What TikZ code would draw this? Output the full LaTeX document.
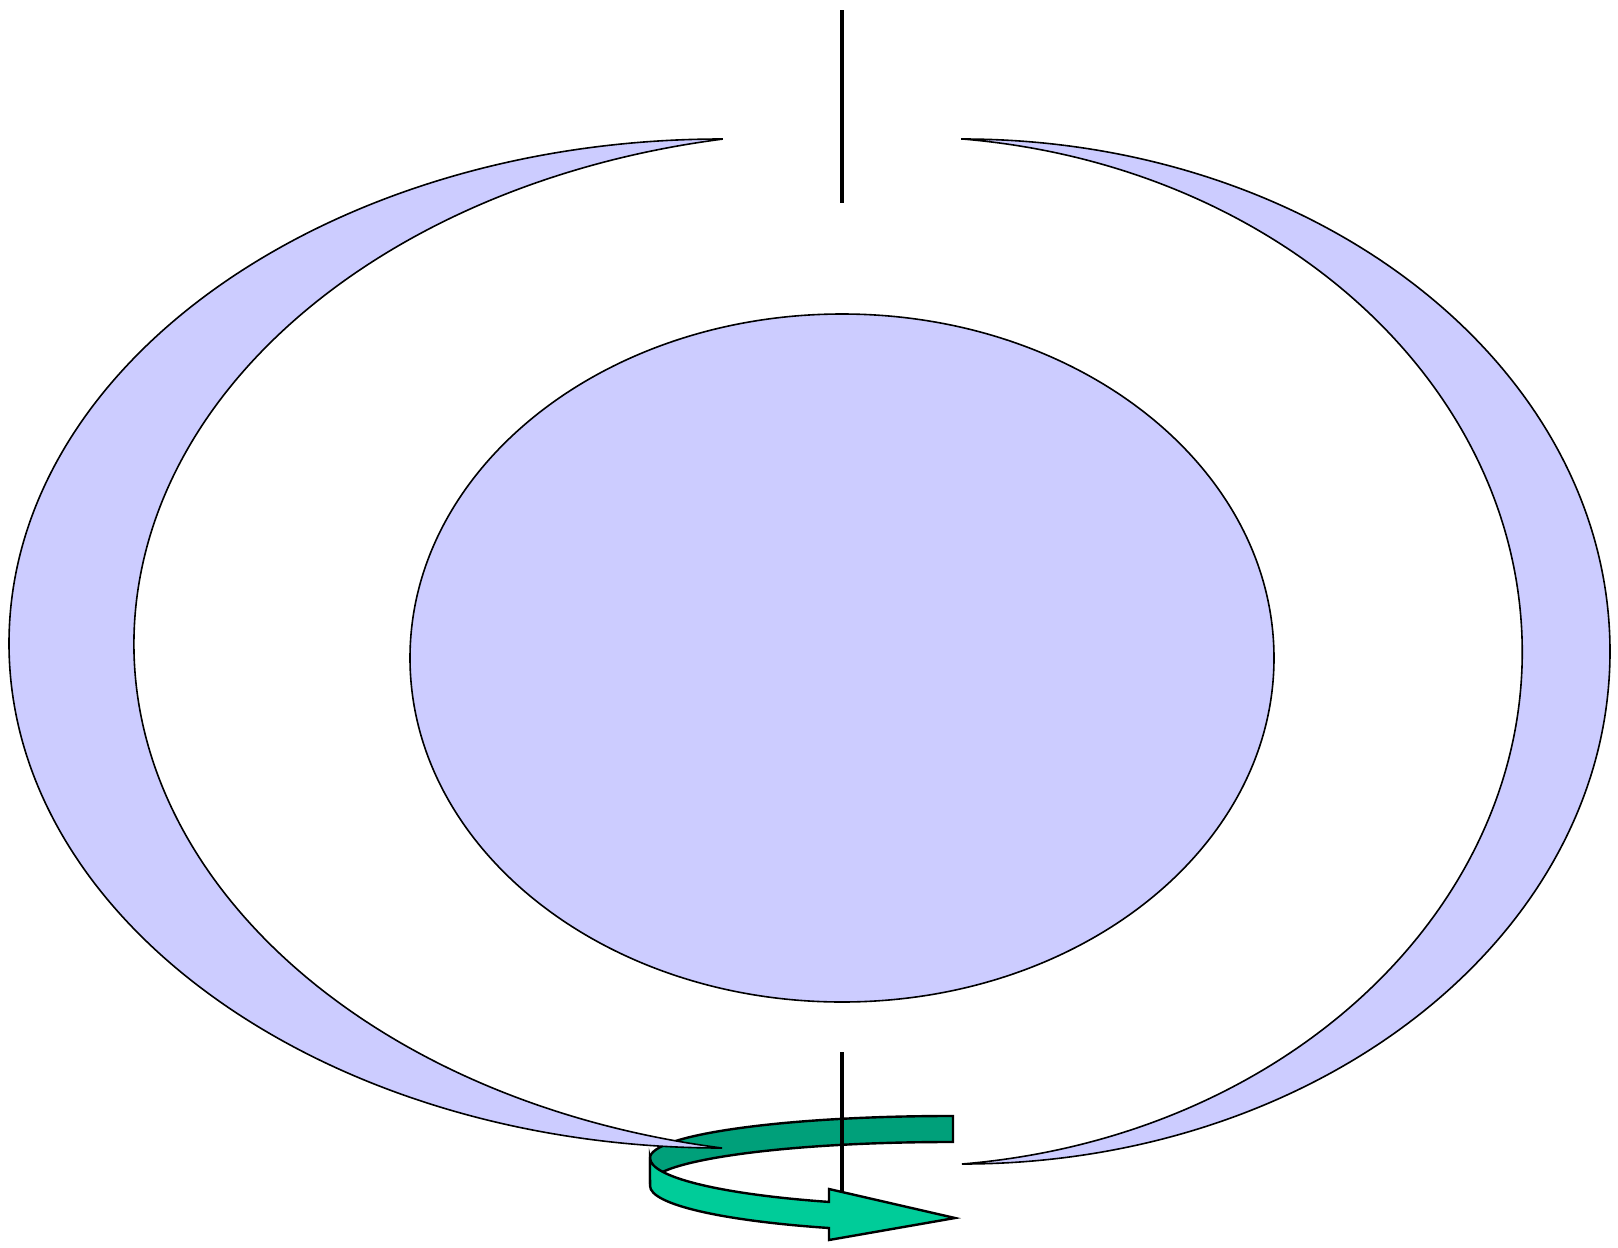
\documentclass[tikz,border=0pt]{standalone}
\usepackage{tikz}
\usepackage{xcolor}
\definecolor{lobefill}{RGB}{204,204,255}
\definecolor{ribbondark}{RGB}{0,160,122}
\definecolor{ribbonlight}{RGB}{0,204,153}

\begin{document}
\begin{tikzpicture}[x=0.5pt, y=-0.5pt,
    lobe/.style={draw=black, fill=lobefill, line width=0.8pt},
    axisline/.style={draw=black, line width=1.6pt},
    ribbon/.style={draw=black, line width=1.2pt}]
    \useasboundingbox (0,0) rectangle (1618,1248);

    \path[ribbon, fill=ribbondark] (953,1142) -- (953,1116) -- (950,1116)
        arc[start angle=270, end angle=180, x radius=300, y radius=42]
        -- (650,1184)
        arc[start angle=180, end angle=270, x radius=300, y radius=42]
        -- cycle;

    \path[lobe] (722,139)
        arc[start angle=270, end angle=90, x radius=713, y radius=504.5]
        arc[start angle=100.3, end angle=259.7, x radius=716, y radius=512.7]
        -- cycle;
    \path[lobe] (962,139)
        arc[start angle=-90, end angle=90, x radius=648, y radius=512.5]
        arc[start angle=84.3, end angle=-84.3, x radius=622, y radius=515.1]
        -- cycle;

    \path[lobe] (842,658) ellipse[x radius=432, y radius=344];

    \draw[axisline] (842,10) -- (842,203);
    \draw[axisline] (842,1052) -- (842,1200);

    \path[ribbon, fill=ribbonlight] (650,1158)
        arc[start angle=180, end angle=113.8, x radius=300, y radius=48]
        -- (829,1189) -- (955,1218) -- (829,1240) -- (829,1228)
        arc[start angle=113.8, end angle=180, x radius=300, y radius=46]
        -- cycle;
\end{tikzpicture}
\end{document}
